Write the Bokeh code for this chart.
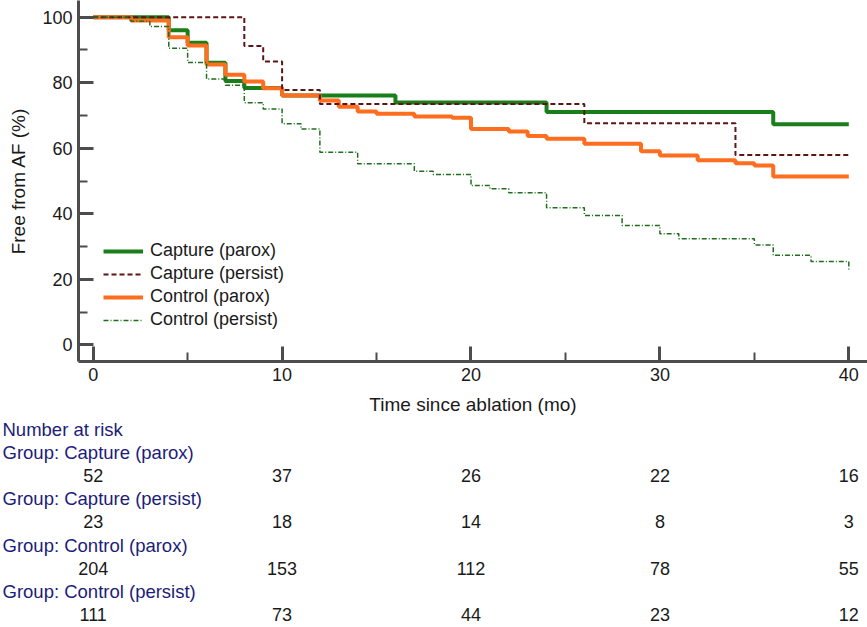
from bokeh.plotting import figure
from bokeh.models import Range1d, FixedTicker, Legend, LegendItem, ColumnDataSource
from bokeh.layouts import column
from bokeh.embed import file_html
from bokeh.resources import INLINE

# ---------------- data ----------------
capture_parox_t = [0, 4, 5, 6, 7, 8, 10, 16, 24, 36, 40]
capture_parox_s = [100, 96.0, 92.2, 86.1, 80.5, 78.4, 76.1, 74.0, 71.1, 67.3, 67.3]

capture_persist_t = [0, 8, 9, 10, 12, 26, 34, 40]
capture_persist_s = [100, 91.2, 86.5, 77.8, 73.5, 67.6, 57.9, 57.9]

control_parox_t = [0, 2, 4, 5, 6, 7, 8, 9, 10, 12, 13, 14, 15, 17, 19, 20, 22, 23,
                   24, 26, 29, 30, 32, 34, 35, 36, 40]
control_parox_s = [100, 99.0, 93.9, 91.4, 85.6, 82.4, 80.4, 78.3, 76.1, 74.6, 72.7,
                   71.2, 70.5, 69.7, 69.3, 65.9, 65.1, 63.7, 62.9, 61.4, 59.1, 57.8,
                   56.3, 55.4, 54.7, 51.4, 51.4]

control_persist_t = [0, 2, 3, 4, 5, 6, 7, 8, 9, 10, 11, 12, 14, 17, 18, 20, 21, 22,
                     24, 26, 28, 30, 31, 35, 36, 38, 40]
control_persist_s = [100, 98.8, 97.2, 90.5, 86.2, 81.1, 79.2, 73.9, 72.0, 67.5, 65.9,
                     58.8, 55.3, 53.0, 52.0, 48.6, 47.6, 46.4, 41.8, 39.5, 36.4, 33.9,
                     32.4, 30.5, 27.3, 25.4, 22.9]

group_names = ["Capture (parox)", "Capture (persist)", "Control (parox)", "Control (persist)"]
x_ticks = [0, 10, 20, 30, 40]
x_minor_ticks = [5, 15, 25, 35]
y_ticks = [0, 20, 40, 60, 80, 100]
y_minor_ticks = [10, 30, 50, 70, 90]

risk_times = [0, 10, 20, 30, 40]
risk_capture_parox = [52, 37, 26, 22, 16]
risk_capture_persist = [23, 18, 14, 8, 3]
risk_control_parox = [204, 153, 112, 78, 55]
risk_control_persist = [111, 73, 44, 23, 12]

# ---------------- layout constants ----------------
W = 867
FONT = "Liberation Sans"
AX = "#4d4d4d"
TXT = "#1a1a1a"
NAVY = "#1c1c7a"

LEFT_BORDER = 78
X_START, X_END = -0.778, 40.99
Y_START, Y_END = -5.1, 105.1
H1 = 418
BOTTOM_BORDER = 57

p = figure(width=W, height=H1, output_backend="svg", toolbar_location=None,
           x_range=Range1d(X_START, X_END), y_range=Range1d(Y_START, Y_END),
           min_border_left=LEFT_BORDER, min_border_right=0, min_border_top=0,
           min_border_bottom=BOTTOM_BORDER, frame_align=False)
p.outline_line_color = None
p.grid.visible = False
p.background_fill_color = "white"

r1 = p.step(capture_parox_t, capture_parox_s, mode="after", line_width=4, line_color="#1a7f1a")
r3 = p.step(control_parox_t, control_parox_s, mode="after", line_width=4, line_color="#ff6d1f")
r2 = p.step(capture_persist_t, capture_persist_s, mode="after", line_width=2,
            line_color="#5c1515", line_dash="5 3")
r4 = p.step(control_persist_t, control_persist_s, mode="after", line_width=1.5,
            line_color="#1e6e1e", line_dash="5 2 1 2")

p.xaxis.ticker = FixedTicker(ticks=x_ticks, minor_ticks=x_minor_ticks)
p.yaxis.ticker = FixedTicker(ticks=y_ticks, minor_ticks=y_minor_ticks)
p.xaxis.axis_label = "Time since ablation (mo)"
p.yaxis.axis_label = "Free from AF (%)"
for ax in (p.xaxis, p.yaxis):
    ax.axis_line_color = AX
    ax.axis_line_width = 3
    ax.major_tick_line_color = AX
    ax.major_tick_line_width = 3
    ax.minor_tick_line_color = AX
    ax.minor_tick_line_width = 2
    ax.major_tick_in = 15
    ax.major_tick_out = 0
    ax.minor_tick_in = 9
    ax.minor_tick_out = 0
    ax.major_label_text_font = FONT
    ax.major_label_text_font_size = "18px"
    ax.major_label_text_color = TXT
    ax.axis_label_text_font = FONT
    ax.axis_label_text_font_size = "19px"
    ax.axis_label_text_font_style = "normal"
    ax.axis_label_text_color = TXT
p.xaxis.major_label_standoff = 6
p.yaxis.major_label_standoff = 6
p.xaxis.axis_label_standoff = 10
p.yaxis.axis_label_standoff = 10

legend = Legend(items=[LegendItem(label=group_names[0], renderers=[r1]),
                       LegendItem(label=group_names[1], renderers=[r2]),
                       LegendItem(label=group_names[2], renderers=[r3]),
                       LegendItem(label=group_names[3], renderers=[r4])],
                location=(25, 31), background_fill_alpha=0, border_line_color=None,
                padding=0, margin=0, spacing=2, glyph_width=40, glyph_height=20,
                label_height=20, label_standoff=7, label_text_font=FONT,
                label_text_font_size="18px", label_text_color=TXT)
p.add_layout(legend)

# ---------------- number at risk table ----------------
px_per_unit = (W - LEFT_BORDER) / (X_END - X_START)
X2_START = X_START - LEFT_BORDER / px_per_unit
X_LABEL = X2_START + 2 / px_per_unit

risk_rows = [risk_capture_parox, risk_capture_persist, risk_control_parox, risk_control_persist]

lab_x, lab_y, lab_t = [X_LABEL], [0], ["Number at risk"]
num_x, num_y, num_t = [], [], []
for i, (g, row) in enumerate(zip(group_names, risk_rows)):
    lab_x.append(X_LABEL)
    lab_y.append(1 + 2 * i)
    lab_t.append("Group: " + g)
    for t, n in zip(risk_times, row):
        num_x.append(t)
        num_y.append(2 + 2 * i)
        num_t.append(str(n))

H2 = 627 - H1
ROW0, PITCH = 429 - H1, 23.1
p2 = figure(width=W, height=H2, output_backend="svg", toolbar_location=None,
            x_range=Range1d(X2_START, X_END),
            y_range=Range1d((H2 - ROW0) / PITCH, -ROW0 / PITCH),
            x_axis_location=None, y_axis_location=None, frame_align=False,
            min_border_left=0, min_border_right=0, min_border_top=0, min_border_bottom=0)
p2.outline_line_color = None
p2.grid.visible = False

p2.text(x="x", y="y", text="t", source=ColumnDataSource(dict(x=lab_x, y=lab_y, t=lab_t)),
        text_align="left", text_baseline="middle", text_font_size="18.5px",
        text_color=NAVY, text_font={"value": FONT})
p2.text(x="x", y="y", text="t", source=ColumnDataSource(dict(x=num_x, y=num_y, t=num_t)),
        text_align="center", text_baseline="middle", text_font_size="18px",
        text_color=TXT, text_font={"value": FONT})

layout = column(p, p2, spacing=0)
open("out.html", "w").write(file_html(layout, INLINE))
